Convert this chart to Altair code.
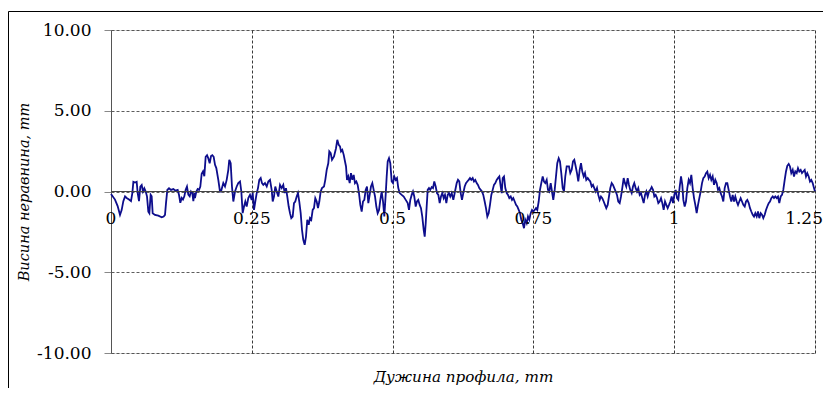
import altair as alt
import pandas as pd

# Profile length positions (mm) and roughness height values
x_mm = [
    0.0, 0.0071, 0.0118, 0.016, 0.0189, 0.0219, 0.0249, 0.0278, 0.032, 0.0355,
    0.0379, 0.0397, 0.0426, 0.0456, 0.0474, 0.0497, 0.0521, 0.0545, 0.0568, 0.0592,
    0.0616, 0.0639, 0.0663, 0.0681, 0.0704, 0.0722, 0.074, 0.0781, 0.084, 0.09,
    0.0935, 0.0959, 0.0977, 0.1, 0.103, 0.1065, 0.1107, 0.1148, 0.1184, 0.1207,
    0.1231, 0.1255, 0.1278, 0.1302, 0.1326, 0.1349, 0.1373, 0.1397, 0.142, 0.1444,
    0.1462, 0.148, 0.1491, 0.1515, 0.1539, 0.1563, 0.1586, 0.161, 0.1634, 0.1657,
    0.1681, 0.1705, 0.1728, 0.1752, 0.1776, 0.1799, 0.1823, 0.1847, 0.187, 0.1906,
    0.1935, 0.1953,
    0.1994, 0.2024, 0.2054, 0.2083, 0.21, 0.2125, 0.2148, 0.2172, 0.2202, 0.2232,
    0.226, 0.2291, 0.2314, 0.2338, 0.2362, 0.2385, 0.2409, 0.2438, 0.2468, 0.2498,
    0.2516, 0.2539, 0.2562, 0.2587, 0.261, 0.2633, 0.2658, 0.2681, 0.2704, 0.2734,
    0.2765, 0.2793, 0.2823, 0.2853, 0.2871, 0.2894, 0.2917, 0.2942, 0.2971, 0.3001,
    0.3031, 0.3059, 0.3084, 0.3107, 0.313, 0.3155, 0.3178, 0.3201, 0.3226, 0.3249,
    0.3272, 0.3297, 0.332, 0.3343, 0.3368, 0.3391, 0.3414, 0.3439, 0.3462, 0.3485,
    0.351, 0.3533, 0.3556, 0.3581, 0.3604, 0.3627, 0.3652, 0.3675, 0.3699, 0.3723,
    0.3746, 0.3782, 0.3805, 0.383, 0.3858, 0.3876, 0.3901, 0.3924, 0.396, 0.3995,
    0.4018, 0.4043,
    0.4066, 0.4084, 0.4107, 0.4132, 0.4155, 0.4173, 0.419, 0.4213, 0.4238, 0.4261,
    0.4285, 0.4309, 0.4332, 0.4356, 0.438, 0.4403, 0.4427, 0.4451, 0.4474, 0.4498,
    0.4522, 0.4545, 0.4569, 0.4593, 0.4616, 0.464, 0.4664, 0.4688, 0.4711, 0.4735,
    0.4759, 0.4782, 0.4806, 0.483, 0.4853, 0.4877, 0.4895, 0.4913, 0.4936, 0.4959,
    0.4984, 0.5007, 0.503, 0.5055, 0.5078, 0.5101, 0.5126, 0.5162, 0.5197, 0.5233,
    0.5268, 0.5291, 0.5314, 0.5339, 0.5362, 0.5385, 0.541, 0.5433, 0.5456, 0.5481,
    0.5504, 0.5527, 0.5552, 0.557, 0.5588, 0.5605, 0.5623, 0.5646, 0.5669, 0.5694,
    0.5717, 0.574, 0.5765, 0.5788, 0.5812, 0.5836, 0.5859, 0.5883, 0.5907, 0.593,
    0.5954, 0.5978, 0.6001, 0.6024, 0.6049,
    0.6078, 0.6108, 0.6138, 0.6161, 0.6184, 0.6209, 0.6232, 0.6255, 0.628, 0.6303,
    0.6326, 0.6351, 0.6374, 0.6397, 0.6422, 0.6445, 0.6468, 0.6493, 0.6516, 0.6539,
    0.6564, 0.6587, 0.661, 0.6635, 0.6658, 0.6682, 0.6706, 0.6729, 0.6753, 0.6777,
    0.68, 0.6824, 0.6848, 0.6871, 0.6895, 0.6919, 0.6937, 0.6955, 0.6978, 0.7001,
    0.7026, 0.7049, 0.7072, 0.7097, 0.712, 0.7143, 0.7168, 0.7191, 0.7214, 0.7239,
    0.7262, 0.7285, 0.731, 0.7333, 0.7356, 0.7381, 0.7404, 0.7427, 0.7452, 0.7475,
    0.7498, 0.7523, 0.7546, 0.7569, 0.7594, 0.7617, 0.764, 0.7665, 0.7688, 0.7711,
    0.7736, 0.7759, 0.7782, 0.7807, 0.783, 0.7853, 0.7878, 0.7901, 0.7924, 0.7949,
    0.7972, 0.7995, 0.802, 0.8043, 0.8066, 0.8091,
    0.8132, 0.8155, 0.818, 0.8203, 0.8226, 0.8251, 0.8274, 0.8297, 0.8322, 0.8345,
    0.8368, 0.8393, 0.8416, 0.8439, 0.8464, 0.8487, 0.851, 0.8535, 0.8558, 0.8581,
    0.8606, 0.8629, 0.8652, 0.8677, 0.87, 0.8723, 0.8748, 0.8771, 0.8794, 0.8819,
    0.8842, 0.8865, 0.889, 0.8913, 0.8936, 0.8961, 0.8984, 0.9007, 0.9032, 0.9055,
    0.9078, 0.9103, 0.9126, 0.9149, 0.9174, 0.9197, 0.922, 0.9245, 0.9268, 0.9291,
    0.9316, 0.9339, 0.9362, 0.9387, 0.941, 0.9434, 0.9458, 0.9482, 0.9505, 0.9529,
    0.9553, 0.9576, 0.96, 0.9624, 0.9647, 0.9671, 0.9695, 0.9718, 0.9742, 0.9766,
    0.9789, 0.9813, 0.9837, 0.986, 0.9884, 0.9908, 0.9931, 0.9955, 0.9979, 1.0002,
    1.0027, 1.005, 1.0073, 1.0098, 1.0121, 1.0144,
    1.0162, 1.0186, 1.0209, 1.0233, 1.0257, 1.028, 1.0304, 1.0328, 1.0352, 1.0375,
    1.0399, 1.0423, 1.0446, 1.047, 1.0494, 1.0517, 1.0541, 1.0565, 1.0588, 1.0612,
    1.0636, 1.0659, 1.0683, 1.0707, 1.073, 1.0754, 1.0778, 1.0801, 1.0825, 1.0849,
    1.0872, 1.0896, 1.092, 1.0943, 1.0967, 1.0991, 1.1014, 1.1038, 1.1062, 1.1085,
    1.1109, 1.1133, 1.1156, 1.118, 1.1204, 1.1227, 1.1252, 1.1275, 1.1298, 1.1323,
    1.1346, 1.1369, 1.1394, 1.1417, 1.144, 1.1465, 1.1488, 1.1511, 1.1536, 1.1559,
    1.1582, 1.1607, 1.163, 1.1653, 1.1678, 1.1701, 1.1724, 1.1749, 1.1772, 1.1795,
    1.182, 1.1843, 1.1866, 1.1891, 1.1914, 1.1937, 1.1962, 1.1985, 1.2008, 1.2033,
    1.2056, 1.2079, 1.2104, 1.2127, 1.215, 1.2175, 1.2198, 1.2221, 1.2246, 1.2269,
    1.2292, 1.2317, 1.234, 1.2363, 1.2388, 1.2411, 1.2434, 1.2459, 1.2482, 1.25,
]

height = [
    -0.15, -0.5, -0.9, -1.45, -1.15, -0.6, -0.3, -0.4, -0.5, -0.6,
    -0.1, 0.6, 0.55, 0.6, -0.1, -0.6, 0.3, 0.4, 0.0, 0.2,
    0.0, -0.3, -1.25, -1.35, -0.2, -0.3, -1.35, -1.45, -1.5, -1.6,
    -1.55, -1.45, -0.7, 0.1, 0.2, 0.1, 0.15, 0.05, 0.1, -0.2,
    -0.7, -0.4, -0.5, -0.3, 0.1, 0.3, -0.2, -0.3, 0.0, -0.1,
    -0.6, -0.1, -0.4, 0.0, 0.15, 0.1, 0.3, 1.1, 1.25, 0.95,
    2.15, 2.25, 2.05, 1.75, 2.2, 2.25, 2.15, 1.65, 1.45, 0.7,
    0.0, 0.0,
    0.52, 0.31, 0.72, 1.34, 1.96, 1.75, 0.31, -0.62, 0.0, 0.31,
    0.52, 0.62, 0.0, -1.34, -0.93, -0.62, -0.93, -0.41, -0.21, -0.52,
    -0.1, -1.14, -0.62, -0.1, 0.21, 0.72, 0.83, 0.52, 0.41, 0.52,
    0.31, 0.62, 0.72, 0.1, -0.62, -0.31, 0.31, 0.0, -0.31, 0.41,
    0.21, 0.41, -0.1, 0.21, -0.31, -0.93, -1.34, -1.65, -1.55, -0.72,
    -0.62, -0.31, -0.1, -0.62, -1.34, -2.37, -2.99, -3.3, -2.79, -1.75,
    -2.06, -1.65, -1.75, -1.14, -1.03, -0.41, -0.62, -1.03, -0.62, 0.0,
    0.21, 0.31, 0.72, 1.34, 1.75, 2.48, 2.37, 1.96, 2.17, 2.68,
    3.2, 2.89,
    2.79, 2.48, 2.58, 2.27, 1.86, 1.55, 0.72, 0.93, 0.52, 1.14,
    0.72, 1.03, 0.52, 0.62, 0.41, -0.1, -0.83, -1.24, -0.62, -0.52,
    0.1, 0.31, -0.72, -0.21, 0.31, 0.52, 0.1, -0.31, -0.93, -1.34,
    -1.14, -0.52, 0.0, -0.62, -1.55, -0.21, 0.93, 1.86, 2.06, 1.75,
    0.62, 0.52, 0.93, 0.72, 0.83, 0.21, -0.1, -0.21, -0.31, -0.52,
    -0.72, -1.14, -0.52, -0.21, 0.0, -0.31, -0.93, -0.62, -0.52, -0.83,
    -1.03, -1.55, -2.37, -2.79, -1.96, -0.93, 0.1, 0.21, 0.1, 0.27,
    0.21, 0.62, 0.31, -0.1, -0.21, -0.72, -0.31, -0.1, -0.41, -0.21,
    -0.72, -0.21, -0.1, -0.31, -0.1,
    -0.52, 0.0, 0.52, 0.72, 0.62, -0.1, -0.52, -0.1, 0.31, 0.52,
    0.62, 0.72, 0.83, 0.72, 0.83, 0.62, 0.72, 0.52, 0.41, 0.21,
    0.1, 0.0, -0.21, -0.62, -1.03, -1.55, -1.34, -0.83, -0.21, 0.1,
    0.41, 0.52, 0.72, 0.83, 0.93, 0.31, -0.1, 0.83, 0.93, 0.21,
    -0.1, -0.21, -0.41, -0.31, -0.52, -0.41, -0.62, -0.83, -0.93, -1.14,
    -1.34, -1.75, -1.96, -2.27, -1.75, -1.96, -1.55, -1.75, -1.34, -1.14,
    -1.24, -1.14, -1.03, -1.14, -0.62, 0.1, 0.52, 0.93, 0.62, 0.52,
    0.72, 0.1, 0.0, 0.52, 0.0, -0.52, 0.1, 0.93, 1.75, 2.06,
    1.86, 1.14, 0.21, 0.0, 0.93, 1.55,
    1.55, 1.14, 1.34, 1.86, 1.96, 1.55, 1.14, 0.62, 1.34, 1.75,
    1.24, 0.93, 1.14, 0.72, 0.83, 0.72, 0.62, 0.31, 0.41, 0.21,
    0.0, 0.21, -0.21, -0.52, -0.31, -0.41, -0.62, -0.83, -1.03, -0.83,
    -0.31, 0.21, 0.52, 0.41, 0.21, 0.0, -0.21, -0.62, -0.72, -0.31,
    0.21, 0.83, 0.52, 0.31, 0.83, 0.41, 0.1, -0.1, 0.31, 0.52,
    0.21, 0.0, 0.21, -0.21, -0.1, -0.41, -0.72, -0.21, 0.0, -0.31,
    0.0, 0.1, 0.27, 0.1, -0.31, -0.21, -0.41, -0.72, -0.62, -0.41,
    -0.72, -1.14, -0.62, -0.83, -1.03, -0.83, -0.62, -0.31, -0.72, -0.21,
    0.1, -0.41, -0.52, 0.31, 0.93, 0.41,
    -0.52, -0.93, -0.62, 0.21, 0.72, 0.52, 1.03, 0.21, -0.41, -0.83,
    -1.34, -0.83, -0.41, 0.0, 0.52, 0.83, 0.93, 1.14, 1.24, 0.83,
    1.03, 0.72, 0.93, 0.41, 0.72, 0.52, 0.1, 0.21, -0.1, -0.31,
    -0.62, 0.21, 0.52, 0.52, 0.1, -0.31, -0.62, -0.21, -0.62, -0.31,
    -0.62, -0.83, -0.62, -0.41, -0.62, -0.83, -0.93, -0.62, -0.52, -0.72,
    -1.03, -1.24, -1.44, -1.55, -1.34, -1.55, -1.24, -1.65, -1.34, -1.44,
    -1.65, -1.44, -1.14, -0.93, -0.72, -0.62, -0.41, -0.31, -0.41, -0.31,
    -0.41, -0.31, -0.72, -0.31, -0.21, 0.1, 0.72, 1.24, 1.59, 1.71,
    1.55, 1.14, 1.34, 0.93, 1.24, 1.14, 1.45, 1.24, 1.34, 1.14,
    1.24, 1.34, 0.93, 1.14, 0.93, 0.62, 0.72, 0.52, 0.21, 0.0,
]

x_ticks = [0, 0.25, 0.5, 0.75, 1, 1.25]
x_tick_labels = ["0", "0.25", "0.5", "0.75", "1", "1.25"]
y_ticks = [-10, -5, 0, 5, 10]
x_title = "Дужина профила, mm"
y_title = "Висина неравнина, mm"

df = pd.DataFrame({"x": x_mm, "y": height})
ticks_df = pd.DataFrame({"x": x_ticks, "label": x_tick_labels})

W, H = 704, 323
FONT = "DejaVu Serif"

xscale = alt.Scale(domain=[0, 1.25], nice=False, zero=False)
yscale = alt.Scale(domain=[-10, 10], nice=False)

yaxis = alt.Axis(
    values=y_ticks,
    labelExpr="(datum.value < 0 ? '-' : '') + format(abs(datum.value), '.2f')",
    grid=True, gridDash=[3, 2], gridColor="#333333",
    gridWidth=0.8, tickSize=7, tickColor="#888888", domainColor="#555555",
    labelFont=FONT, labelFontSize=17, labelColor="black", labelPadding=13,
    title=y_title, titleFont=FONT, titleFontStyle="italic", titleFontWeight="normal",
    titleFontSize=14.5, titleColor="black", titlePadding=5,
)

xaxis = alt.Axis(
    values=x_ticks, grid=True, gridDash=[3, 2], gridColor="#222222", gridWidth=0.9,
    labels=False, ticks=False, domain=False,
    title=x_title, titleFont=FONT, titleFontStyle="italic", titleFontWeight="normal",
    titleFontSize=15.2, titleColor="black", titlePadding=16,
)

X = alt.X("x:Q", scale=xscale, axis=xaxis)
Y = alt.Y("y:Q", scale=yscale, axis=yaxis)

zero_line = alt.Chart(ticks_df).mark_rule(color="#444444", strokeWidth=1).encode(
    y=alt.datum(0)
)

tick_labels = alt.Chart(ticks_df.iloc[:-1]).mark_text(
    font=FONT, fontSize=17, color="black", align="center", baseline="middle", dy=27
).encode(x=X, y=alt.datum(0), text="label:N")

# last label kept inside the page: right-aligned just past the final tick
last_label = alt.Chart(ticks_df.iloc[-1:]).mark_text(
    font=FONT, fontSize=17, color="black", align="right", baseline="middle", dy=27, dx=8
).encode(x=X, y=alt.datum(0), text="label:N")

line = alt.Chart(df).mark_line(color="#0d0d8c", strokeWidth=1.8).encode(x=X, y=Y)

frame = alt.Chart(pd.DataFrame({"k": [0]})).mark_rect(
    fill="transparent", stroke="black", strokeWidth=1
).encode(
    x=alt.value(-102.5), x2=alt.value(760), y=alt.value(-18.5), y2=alt.value(420)
)

chart = alt.layer(line, zero_line, tick_labels, last_label, frame).properties(
    width=W, height=H,
    autosize=alt.AutoSizeParams(type="none"),
    padding={"left": 103, "top": 22, "right": 8, "bottom": 35},
).configure_view(stroke="#8c8c8c", strokeWidth=1.5).configure(background="white")

chart.save("out.html", embed_options={"renderer": "svg", "actions": False})
